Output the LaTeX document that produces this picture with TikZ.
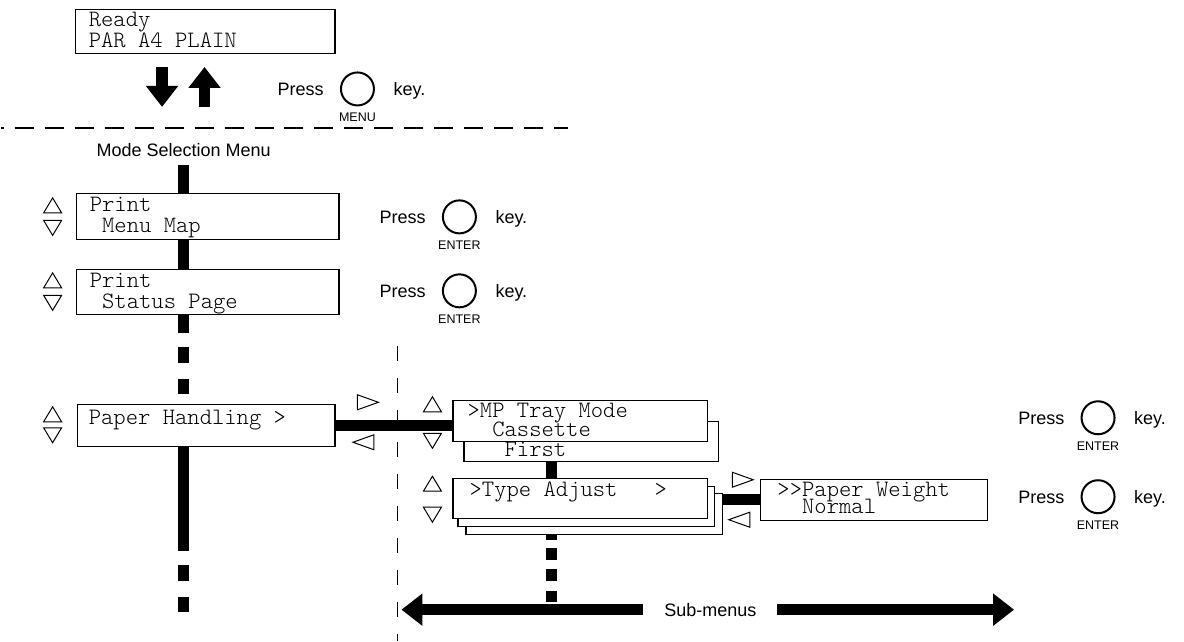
\documentclass[tikz,border=0pt]{standalone}
\usepackage{fontspec}
\setmainfont{Liberation Sans}
\newfontfamily\lcdface{Latin Modern Mono Light}
\usepackage{tikz}
\usetikzlibrary{arrows.meta,positioning,calc}
\newcommand{\lcdfont}{\lcdface\fontsize{23.5}{23.5}\selectfont}
\newcommand{\presskey}[4]{%
  \node[keytext] (#1-press) at ($(#2,#3)+(0,6.5)$) {Press};
  \node[keybtn] (#1-btn) at ($(#2,#3)+(80,0)$) {};
  \node[keylabel] (#1-lbl) at ($(#1-btn)+(0,28)$) {#4};
  \node[keytext] (#1-key) at ($(#2,#3)+(116,6.5)$) {key.};
}
\tikzset{
  uptri/.pic={\draw[tri] (-9,7.5) -- (9,7.5) -- (0,-7.5) -- cycle;},
  dntri/.pic={\draw[tri] (-9,-7.5) -- (9,-7.5) -- (0,7.5) -- cycle;},
  rttri/.pic={\draw[tri] (-10.5,-7.5) -- (-10.5,7.5) -- (10.5,0) -- cycle;},
  lftri/.pic={\draw[tri] (10.5,-7.5) -- (10.5,7.5) -- (-10.5,0) -- cycle;},
}

\begin{document}
\begin{tikzpicture}[x=1pt, y=-1pt,
  lcd/.style={draw, line width=1.1pt, fill=white, anchor=north west, inner sep=0pt},
  lcdtext/.style={anchor=base west, inner sep=0pt, font=\lcdfont},
  bar/.style={line width=11pt},
  fatarrow/.style={line width=11.5pt, -{Triangle[width=31pt,length=21pt]}},
  tri/.style={line width=1pt},
  sepline/.style={line width=1.3pt},
  keytext/.style={anchor=base west, inner sep=0pt, font=\fontsize{18}{20}\selectfont},
  keybtn/.style={circle, draw, line width=2pt, minimum size=33pt, inner sep=0pt},
  keylabel/.style={inner sep=0pt, font=\fontsize{12.5}{14}\selectfont}]
  \fill[white] (0,0) rectangle (1184,641);

  % ready display and mode switch
  \node[lcd, minimum width=260pt, minimum height=44pt] (ready) at (74,9) {};
  \node[lcdtext] (ready-1) at (88,27) {Ready};
  \node[lcdtext] (ready-2) at (88,48) {PAR A4 PLAIN};
  \coordinate (dn-a) at (161.5,67);
  \coordinate (dn-b) at (161.5,107);
  \coordinate (up-a) at (204,107);
  \coordinate (up-b) at (204,67);
  \draw[fatarrow] (dn-a) -- (dn-b);
  \draw[fatarrow] (up-a) -- (up-b);
  \presskey{menu}{277}{89}{MENU}
  \draw[sepline, dash pattern=on 19pt off 11pt, dash phase=16pt] (0,128) -- (568,128);

  % mode selection menu
  \node[font=\fontsize{18}{20}\selectfont, inner ysep=8pt] (modesel) at (183,150) {Mode Selection Menu};
  \coordinate (trunk) at (183,0);
  \coordinate (trunkend) at (183,612);

  \node[lcd, minimum width=263pt, minimum height=46pt] (menumap) at (75,193) {};
  \node[lcdtext] (menumap-1) at (89,212) {Print};
  \node[lcdtext] (menumap-2) at (89,233) {~Menu Map};
  \pic at (52,205.5) {uptri};
  \pic at (52,228) {dntri};
  \presskey{enter1}{379}{217}{ENTER}

  \node[lcd, minimum width=263pt, minimum height=45pt] (status) at (75,269) {};
  \node[lcdtext] (status-1) at (89,288) {Print};
  \node[lcdtext] (status-2) at (89,309) {~Status Page};
  \pic at (52,280.5) {uptri};
  \pic at (52,303) {dntri};
  \presskey{enter2}{379}{291}{ENTER}

  \node[lcd, minimum width=258pt, minimum height=42pt] (paperhdl) at (76,404) {};
  \node[lcdtext] (paperhdl-1) at (88,425) {Paper Handling >};
  \pic at (52,414.5) {uptri};
  \pic at (52,435.5) {dntri};

  \draw[bar] (modesel.south) -- (modesel.south |- menumap.north);
  \draw[bar] (menumap.south -| trunk) -- (status.north -| trunk);
  \draw[bar, dash pattern=on 18pt off 14pt on 16pt off 16pt on 15pt off 30pt]
    (status.south -| trunk) -- (paperhdl.north -| trunk);
  \draw[bar, dash pattern=on 104pt off 14pt on 16pt off 16pt on 16pt off 30pt]
    (paperhdl.south -| trunk) -- (trunkend);

  % sub-menus
  \draw[sepline, dash pattern=on 15pt off 17pt] (397,346) -- (397,641);

  \node[lcd, minimum width=255pt, minimum height=40pt] (mptrayb) at (463,421) {};
  \node[lcd, minimum width=255pt, minimum height=41pt] (mptray) at (452,400) {};
  \node[lcdtext] (mptray-1) at (467,418) {>MP Tray Mode};
  \node[lcdtext] (mptray-2) at (467,437) {~~Cassette};
  \node[lcdtext] (mptray-3) at (467,457) {~~~First};
  \pic at (432,404.5) {uptri};
  \pic at (432,441) {dntri};
  \pic at (367.5,402.5) {rttri};
  \pic at (363,442.5) {lftri};
  \draw[bar] (paperhdl.east) -- (paperhdl.east -| mptray.west);
  \presskey{enter3}{1018}{418}{ENTER}

  \node[lcd, minimum width=257pt, minimum height=41pt] (typeadjc) at (465,493) {};
  \node[lcd, minimum width=257pt, minimum height=40pt] (typeadjb) at (457,486) {};
  \node[lcd, minimum width=255pt, minimum height=40pt] (typeadj) at (452,478) {};
  \node[lcdtext] (typeadj-1) at (469,497) {>Type Adjust~~~>};
  \pic at (432,484) {uptri};
  \pic at (432,515) {dntri};
  \coordinate (branch) at (551,461);
  \draw[bar] (mptrayb.south -| branch) -- (typeadj.north -| branch);

  \node[lcd, minimum width=227pt, minimum height=41pt] (paperwt) at (760,479) {};
  \node[lcdtext] (paperwt-1) at (777,497) {>>Paper Weight};
  \node[lcdtext] (paperwt-2) at (777,514) {~~Normal};
  \pic at (742.5,480) {rttri};
  \pic at (739,520) {lftri};
  \draw[bar] (paperwt.west -| typeadjc.east) -- (paperwt.west);
  \presskey{enter4}{1018}{497}{ENTER}

  \node[font=\fontsize{18}{20}\selectfont, inner xsep=21pt] (sub) at (710,610) {Sub-menus};
  \coordinate (subleft) at (401,610);
  \coordinate (subright) at (1014,610);
  \draw[bar, dash pattern=on 5pt off 8pt on 12pt off 9pt on 12pt off 10pt on 11pt off 30pt]
    (typeadjc.south -| branch) -- (branch |- subleft);
  \draw[fatarrow] (sub.west) -- (subleft);
  \draw[fatarrow] (sub.east) -- (subright);
\end{tikzpicture}
\end{document}
